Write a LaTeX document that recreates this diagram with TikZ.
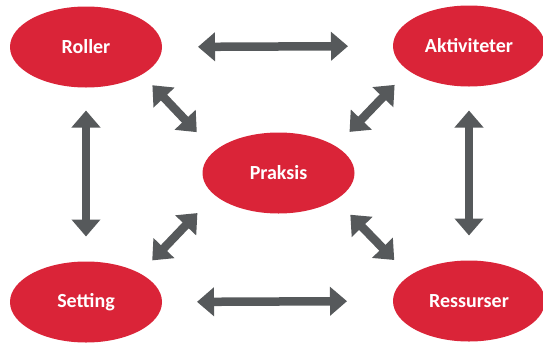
\documentclass[tikz,border=0pt]{standalone}
\usepackage{fontspec}
\setmainfont{Carlito}
\usetikzlibrary{shapes.geometric}
\usetikzlibrary{arrows.meta}
\usepackage{xcolor}
\definecolor{praksisred}{RGB}{218,36,56}
\definecolor{arrowgrey}{RGB}{86,89,91}

\begin{document}
\begin{tikzpicture}[x=1pt, y=-1pt]
        % ================= 样式 =================
        \tikzset{
            % 红色椭圆节点
            rnode/.style={ellipse, fill=praksisred, draw=none, minimum width=152pt, minimum height=81pt, inner sep=0pt, outer sep=0pt, text=white, font=\fontsize{20}{24}\selectfont\bfseries},
            % 灰色双向箭头
            grey_arrow/.style={line width=8.5pt, arrowgrey, {Triangle[width=28pt,length=17pt]}-{Triangle[width=28pt,length=17pt]}}
        }

        \useasboundingbox (0,0) rectangle (543,346);

        % ================= 节点 =================
        \node[rnode] (roller) at (86,47) {Roller};
        \node[rnode] (aktiv) at (469,46) {Aktiviteter};
        \node[rnode] (praksis) at (278.5,173) {Praksis};
        \node[rnode] (setting) at (86,302) {Setting};
        \node[rnode] (ressurser) at (469,301) {Ressurser};

        % ================= 外圈箭头 =================
        \draw[grey_arrow, shorten <=36pt, shorten >=45pt] (roller.east) -- (aktiv.west);
        \draw[grey_arrow, shorten <=35pt, shorten >=46pt] (setting.east) -- (ressurser.west);
        \draw[grey_arrow, shorten <=23pt, shorten >=25pt] (roller.south) -- (setting.north);
        \draw[grey_arrow, shorten <=24pt, shorten >=25pt] (aktiv.south) -- (ressurser.north);

        % ================= 斜向箭头 (到 Praksis) =================
        \draw[grey_arrow, shorten <=15pt, shorten >=26pt] (roller.-26) -- (praksis.161);
        \draw[grey_arrow, shorten <=20pt, shorten >=20pt] (aktiv.-158) -- (praksis.25);
        \draw[grey_arrow, shorten <=18pt, shorten >=25pt] (setting.28) -- (praksis.-161);
        \draw[grey_arrow, shorten <=22pt, shorten >=21pt] (ressurser.157) -- (praksis.-25);

    \end{tikzpicture}
\end{document}
